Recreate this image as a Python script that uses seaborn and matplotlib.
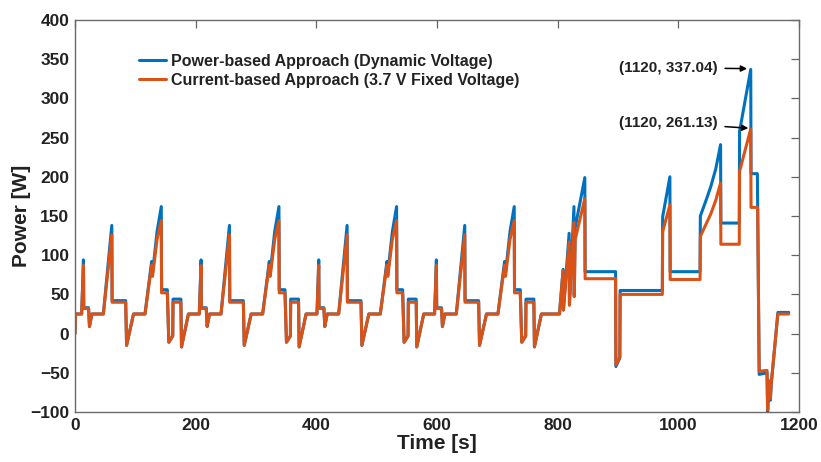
import matplotlib
matplotlib.use("Agg")
import matplotlib.pyplot as plt
from matplotlib.lines import Line2D
import seaborn as sns
import pandas as pd

# ---- data ----
# one urban (ECE) cycle, times relative to cycle start [s], power [W]
ece_t = [1, 11, 14, 14.5, 22.5, 24, 28, 47, 61, 61.5,
         84, 85.5, 97, 116, 127, 128.5, 136, 143, 143.5, 153,
         155.5, 162, 162.5, 175.5, 176.5, 188]
ece_power_based = [25, 25, 94, 33, 33, 9, 25, 25, 138, 42,
                   42, -15, 25, 25, 92, 77, 130, 162, 56, 56,
                   -11, -3, 44, 44, -17, 25]
ece_current_based = [25, 25, 87, 32, 32, 9, 25, 25, 126, 40,
                     40, -15, 25, 25, 87, 73, 120, 144, 52, 52,
                     -11, -3, 40, 40, -17, 25]
ece_starts = [0, 195, 390, 585]

# extra-urban part, absolute times [s]
eudc_t = [803, 809, 809.5, 819, 819.5, 827, 827.5, 829, 845, 845.5,
          896, 896.5, 903, 903.5, 973.5, 974, 986, 986.5, 1036, 1036.5,
          1045, 1054, 1062, 1070, 1070.5, 1101, 1101.5, 1120, 1120.5, 1131,
          1131.5, 1134, 1147, 1148, 1150.5, 1152.5, 1154, 1165, 1183]
eudc_power_based = [25, 82, 30, 128, 38, 162, 49, 135, 199, 79,
                    79, -42, -31, 55, 55, 149, 200, 79, 79, 150,
                    168, 188, 210, 241, 141, 141, 258, 337, 204, 204,
                    162, -52, -50, -100, -62, -85, -65, 27, 27]
eudc_current_based = [25, 80, 30, 117, 36, 142, 47, 120, 172, 70,
                      70, -40, -30, 50, 50, 130, 164, 69, 69, 124,
                      138, 153, 170, 192, 114, 114, 207, 261, 161, 161,
                      158, -48, -47, -97, -60, -83, -63, 25, 25]

start_t = [0]
start_power = [0]

series_names = ["Power-based Approach (Dynamic Voltage)",
                "Current-based Approach (3.7 V Fixed Voltage)"]
annotations = ["(1120, 337.04)", "(1120, 261.13)"]

x_ticks = [0, 200, 400, 600, 800, 1000, 1200]
y_ticks = [-100, -50, 0, 50, 100, 150, 200, 250, 300, 350, 400]

# ---- build table ----
time = start_t + [s + t for s in ece_starts for t in ece_t] + eudc_t
p_blue = start_power + ece_power_based * len(ece_starts) + eudc_power_based
p_orange = start_power + ece_current_based * len(ece_starts) + eudc_current_based
df = pd.DataFrame({
    "Time": time * 2,
    "Power": p_blue + p_orange,
    "Series": [series_names[0]] * len(time) + [series_names[1]] * len(time),
})

sns.set_theme(style="white")
plt.rcParams["font.family"] = ["Liberation Sans", "DejaVu Sans"]
plt.rcParams["font.weight"] = "bold"

colors = {series_names[0]: "#0072BD", series_names[1]: "#D95319"}

fig = plt.figure(figsize=(8.21, 4.62), dpi=100)
ax = fig.add_axes([75 / 821, 1 - 412 / 462, (799 - 75) / 821, (412 - 20) / 462])

sns.lineplot(data=df, x="Time", y="Power", hue="Series", palette=colors,
             estimator=None, sort=False, units="Series", linewidth=2.2,
             ax=ax, legend=False)

ax.set_xlim(0, 1200)
ax.set_ylim(-100, 400)
ax.set_xticks(x_ticks)
ax.set_yticks(y_ticks)
ax.set_xticklabels([str(v) for v in x_ticks], fontsize=12.5, fontweight="bold", color="#222222")
ax.set_yticklabels([("\u2212" + str(-v)) if v < 0 else str(v) for v in y_ticks],
                   fontsize=12.5, fontweight="bold", color="#222222")
ax.tick_params(direction="in", length=6, width=0.9, color="#666666",
               top=True, right=True, pad=4)
for sp in ax.spines.values():
    sp.set_visible(True)
    sp.set_color("#6a6a6a")
    sp.set_linewidth(1.0)

ax.set_xlabel("Time [s]", fontsize=15, fontweight="bold", color="#222222", labelpad=1)
ax.set_ylabel("Power [W]", fontsize=15, fontweight="bold", color="#222222", labelpad=-0.5)

handles = [Line2D([0], [0], color=colors[n], lw=2.2) for n in series_names]
leg = ax.legend(handles, series_names, loc="upper left",
                bbox_to_anchor=((139 - 75) / 724, (412 - 54) / 392),
                frameon=False, fontsize=11.5, handlelength=1.7,
                handletextpad=0.3, labelspacing=0.25, borderpad=0,
                borderaxespad=0)
for t in leg.get_texts():
    t.set_fontweight("bold")
    t.set_color("#222222")

text_pos = [(1065, 339), (1065, 269)]
tips = [(1114, 338), (1116, 262)]
for txt, (tx, ty), (px, py) in zip(annotations, text_pos, tips):
    ax.annotate(txt, xy=(px, py), xytext=(tx, ty), ha="right", va="center",
                fontsize=11, fontweight="bold", color="#222222",
                arrowprops=dict(arrowstyle="-|>", color="black", lw=1.1,
                                shrinkA=3, shrinkB=0, mutation_scale=9))

fig.savefig("out.png", dpi=100, facecolor="white")
